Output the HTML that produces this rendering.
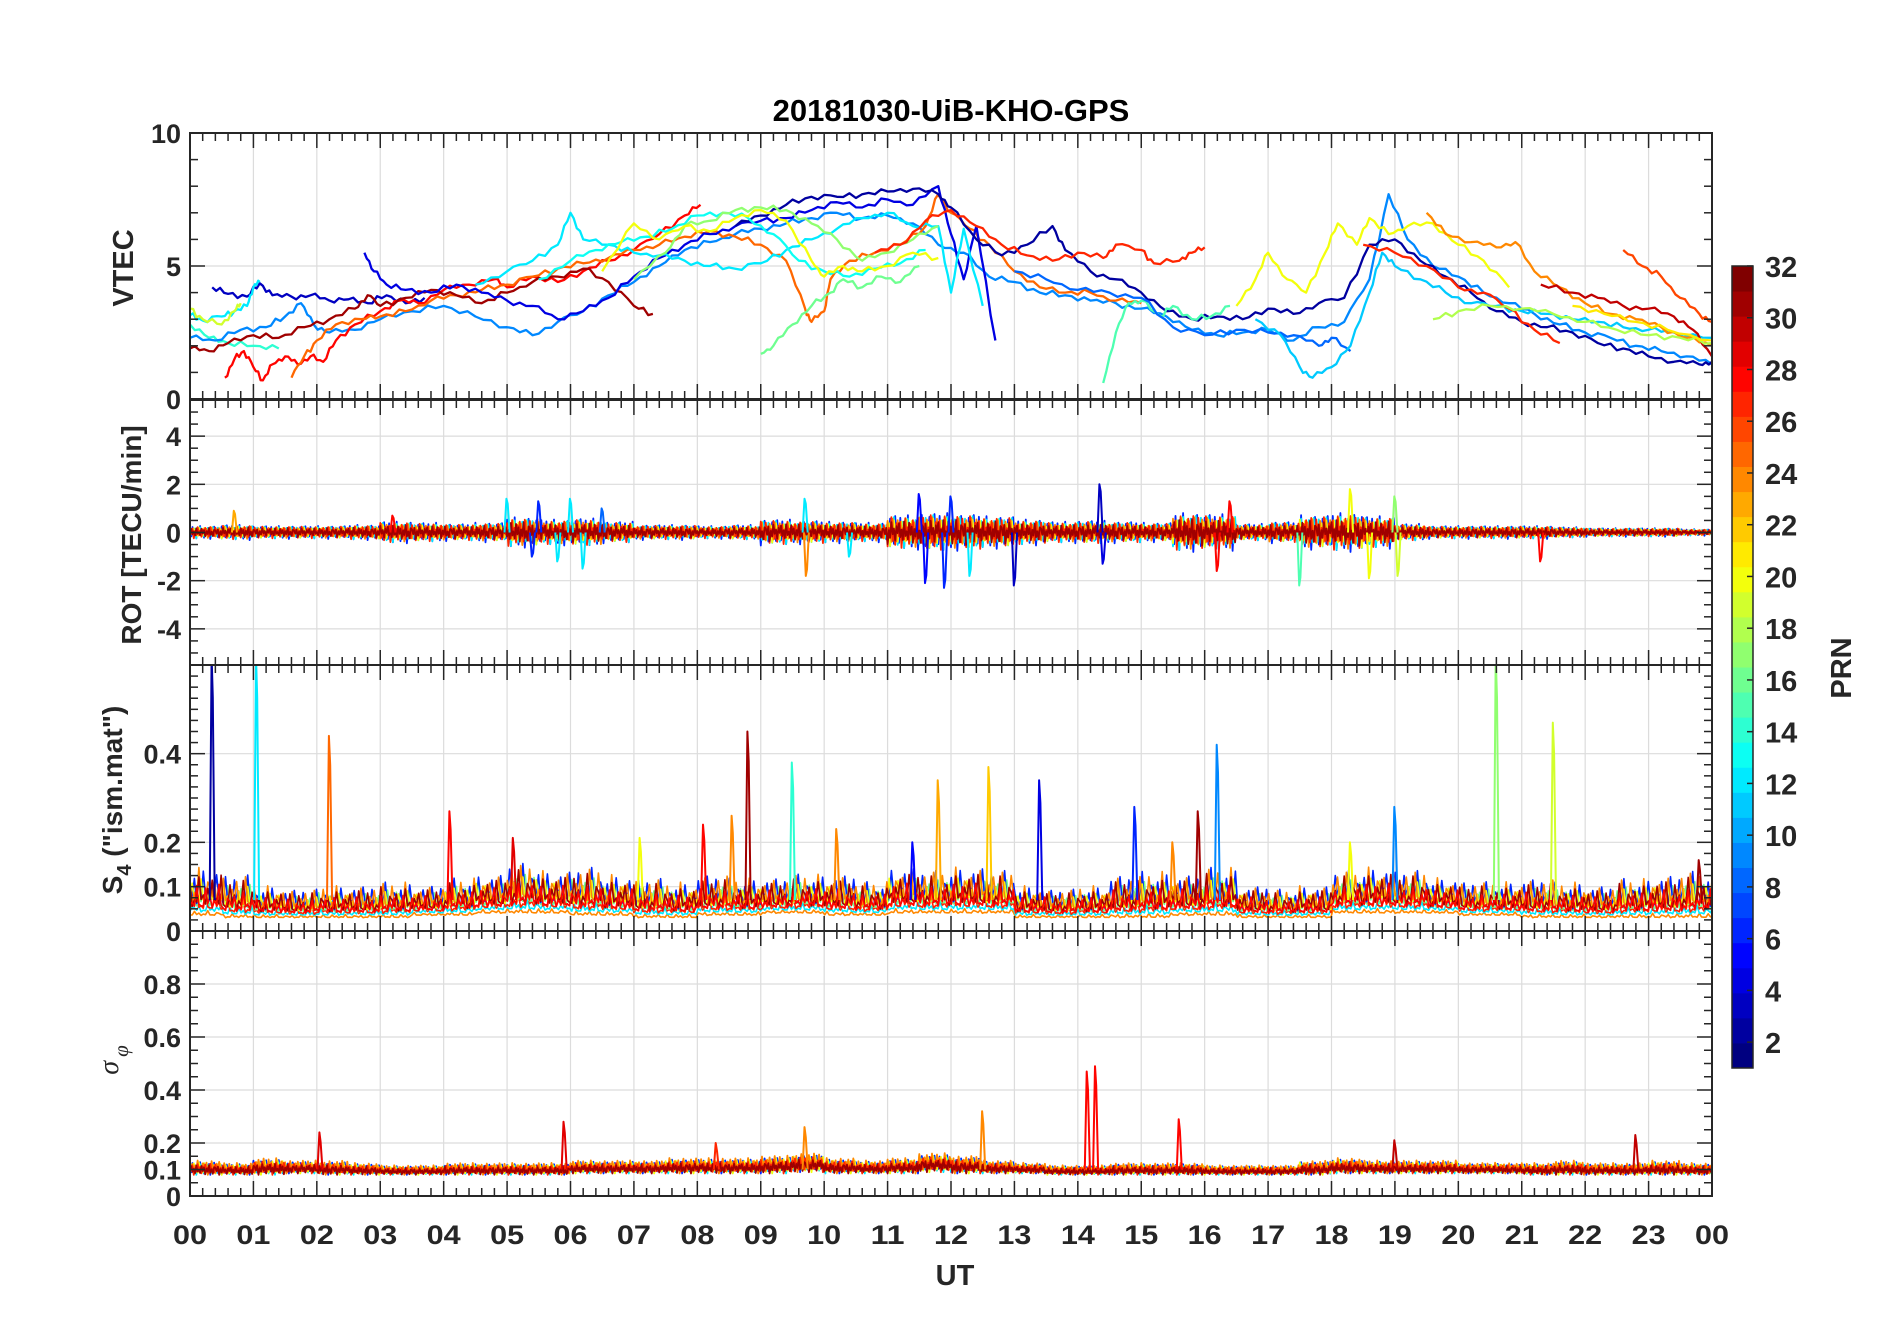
<!DOCTYPE html>
<html><head><meta charset="utf-8"><title>20181030-UiB-KHO-GPS</title>
<style>
html,body{margin:0;padding:0;background:#fff;}
svg{display:block;font-family:"Liberation Sans",Arial,sans-serif;}
</style></head>
<body>
<svg id="fig" width="1902" height="1330" viewBox="0 0 1902 1330" xmlns="http://www.w3.org/2000/svg">
<rect x="0" y="0" width="1902" height="1330" fill="#fff"/>
<text x="951" y="121" font-size="31" font-weight="bold" text-anchor="middle" fill="#000">20181030-UiB-KHO-GPS</text>
<g id="grids"></g>
<g id="data"></g>
<g id="axes"></g>
<g id="cbar"></g>
<text transform="translate(133,268) rotate(-90)" font-size="29" font-weight="bold" text-anchor="middle" fill="#262626">VTEC</text>
<text transform="translate(141,535) rotate(-90)" font-size="28" font-weight="bold" text-anchor="middle" fill="#262626">ROT [TECU/min]</text>
<text transform="translate(122,800) rotate(-90)" font-size="28" font-weight="bold" text-anchor="middle" fill="#262626">S<tspan font-size="20" dy="9">4</tspan><tspan dy="-9"> ("ism.mat")</tspan></text>
<text transform="translate(118,1060) rotate(-90)" font-size="28" font-style="italic" text-anchor="middle" fill="#262626" font-family="Liberation Serif, serif">σ<tspan font-size="21" dy="10" dx="4">φ</tspan></text>
<text x="955" y="1285" font-size="29" font-weight="bold" text-anchor="middle" fill="#262626">UT</text>
<text transform="translate(1851,668) rotate(-90)" font-size="29" font-weight="bold" text-anchor="middle" fill="#262626">PRN</text>
</svg>
<script>
// ---------- DATA ----------
const hourLabels=["00","01","02","03","04","05","06","07","08","09","10","11","12","13","14","15","16","17","18","19","20","21","22","23","00"];
const prnTicks=[2,4,6,8,10,12,14,16,18,20,22,24,26,28,30,32];
const vtecTicks=[0,5,10];
const rotTicks=[-4,-2,0,2,4];
const s4Ticks=[0,0.1,0.2,0.4];
const sigTicks=[0,0.1,0.2,0.4,0.6,0.8];

// VTEC tracks: PRN, times (h), values (TECU)
const vtecPrn=[3,12,19,14,9,28,25,31,4,2,12,13,17,16,20,27,15,8,20,11,24,26,27,30,18,21];
const vtecTimes=[
[0.35,0.6,0.9,1.1,1.3,1.6,1.9,2.2,2.5,2.8,3.1,3.4,3.7],
[0,0.2,0.5,0.7,0.9,1.0,1.1],
[0,0.2,0.5,0.7,0.8],
[0,0.3,0.6,1.0,1.4],
[0,0.4,0.8,1.2,1.5,1.75,1.95,2.2,2.6,3.0,3.5,4.0,4.5,5.0,5.4,5.8,6.2,6.6,7.0,7.4,7.8,8.2,8.6,9.0,9.4,9.8,10.2,10.6,11.0,11.4,11.8,12.2,12.6,13.0,13.4,13.8,14.2,14.6,15.0,15.4,15.8,16.2,16.6,17.0,17.4,17.8,18.2,18.6,18.9,19.2,19.6,20.0,20.4,20.8,21.2,21.6,22.0,22.4,22.8,23.2,23.6,24],
[0.55,0.7,0.85,1.0,1.15,1.3,1.5,1.7,1.9,2.1,2.3,2.6,3.0,3.3,3.6,4.0,4.4,4.8,5.0,5.4,5.8,6.2,6.6,7.0,7.4,7.8,8.05],
[1.6,1.8,2.0,2.3,2.7,3.0,3.4,3.8,4.2,4.6,5.0,5.4,5.8,6.2,6.6,7.0,7.4,7.8,8.2,8.6,9.0,9.4,9.7,9.8,10.0,10.1,10.4,10.8,11.2,11.6,11.8,12.0,12.3,12.6,13.0,13.4,13.8,14.2,14.6,15.0],
[0,0.3,0.6,1.0,1.4,1.8,2.2,2.6,2.8,3.0,3.4,3.8,4.2,4.6,5.0,5.4,5.8,6.2,6.6,7.0,7.3],
[2.75,2.9,3.1,3.4,3.8,4.2,4.6,5.0,5.4,5.8,6.2,6.6,7.0,7.4,7.8,8.2,8.6,9.0,9.4,9.8,10.2,10.6,11.0,11.4,11.8,12.0,12.2,12.4,12.7],
[8.6,9.0,9.4,9.8,10.2,10.6,11.0,11.4,11.8,12.0,12.4,12.8,13.2,13.6,13.8,14.2,14.6,15.0,15.4,15.8,16.2,16.6,17.0,17.4,17.8,18.2,18.6,19.0,19.4,19.8,20.2,20.6,21.0,21.4,21.8,22.2,22.6,23.0,23.4,23.8,24],
[4.5,5.0,5.4,5.8,6.0,6.2,6.6,7.0,7.4,7.8,8.2,8.6,9.0,9.4,9.8,10.2,10.6,11.0,11.4,11.8,12.0,12.2,12.5],
[5.5,6.0,6.4,6.8,7.2,7.6,8.0,8.4,8.8,9.2,9.6,10.0,10.4,10.8,11.2,11.6],
[7.0,7.5,7.8,8.2,8.6,9.0,9.4,9.8,10.2,10.6,11.0,11.4,11.8],
[9.0,9.2,9.5,9.8,10.1,10.3,10.6,10.9,11.2,11.5],
[6.5,7.0,7.4,7.8,8.2,8.6,9.0,9.4,9.8,10.0,10.3,10.6,11.0,11.4,11.8],
[10.8,11.2,11.6,12.0,12.4,12.8,13.2,13.6,14.0,14.4,14.6,15.0,15.2,15.6,15.8,16.0],
[14.4,14.6,14.8,15.0,15.3,15.5,15.8,16.1,16.4],
[13.0,13.5,14.0,14.5,15.0,15.5,16.0,16.5,17.0,17.4,17.8,18.0,18.3],
[16.5,16.8,17.0,17.3,17.6,17.9,18.1,18.4,18.6,18.9,19.2,19.6,20.0,20.4,20.8],
[16.8,17.2,17.5,17.7,18.0,18.3,18.6,18.8,19.0,19.4,19.8,20.2,20.6,21.0,21.4,21.8,22.2,22.6,23.0,23.4,24],
[19.5,19.8,20.2,20.6,20.9,21.2,21.6,22.0,22.4,22.8,23.2,23.6,24],
[22.6,22.9,23.2,23.5,23.8,24],
[18.5,19.0,19.5,20.0,20.4,20.8,21.2,21.6],
[21.3,21.8,22.2,22.6,23.0,23.4,23.7,24],
[19.6,20.0,20.5,21.0,21.5,22.0,22.5,23.0,23.5,24],
[21.8,22.3,22.8,23.3,24]
];
const vtecValues=[
[4.2,3.95,3.85,4.35,3.9,3.85,3.9,3.7,3.75,3.6,3.9,3.6,3.8],
[3.15,2.95,3.1,3.3,3.5,4.2,4.4],
[3.4,3.0,2.8,3.3,3.6],
[2.8,2.3,2.1,2.0,1.9],
[2.3,2.2,2.6,2.7,3.1,3.6,2.8,2.5,2.6,3.0,3.3,3.5,3.1,2.7,2.4,2.9,3.3,3.9,4.4,5.0,5.6,5.9,6.2,6.4,6.6,6.8,7.0,6.8,6.9,6.6,5.8,5.5,4.6,4.4,4.0,3.9,3.7,3.6,3.4,3.1,2.6,2.4,2.5,2.6,2.2,2.7,2.9,4.5,7.7,6.0,5.0,4.6,4.0,3.6,3.2,2.8,2.5,2.3,2.0,1.8,1.6,1.3],
[0.8,1.5,1.8,1.2,0.7,1.3,1.6,1.3,1.6,1.4,2.2,2.8,3.3,3.7,3.6,4.1,4.3,4.5,4.2,4.6,4.4,4.8,5.2,5.6,6.2,6.9,7.3],
[0.8,1.6,2.2,2.8,3.0,3.1,3.3,3.7,3.9,4.1,4.3,4.6,4.9,5.1,5.3,5.6,5.8,6.1,6.3,6.1,5.8,5.2,3.4,2.9,3.3,4.5,5.2,5.5,5.8,6.5,7.7,7.0,6.4,5.8,4.8,4.2,4.0,4.0,3.7,3.6],
[1.9,1.8,2.1,2.4,2.3,2.7,3.0,3.4,3.9,3.5,3.8,4.1,3.9,3.6,4.0,4.4,4.6,4.9,4.4,3.5,3.2],
[5.5,4.8,4.3,4.1,4.0,4.3,4.0,3.7,3.5,3.0,3.3,3.8,4.6,5.3,5.8,6.2,6.5,6.7,6.8,7.1,7.4,7.2,7.5,7.3,8.0,6.2,4.5,6.5,2.2],
[6.5,6.9,7.3,7.6,7.6,7.7,7.8,7.9,7.7,7.2,6.0,5.4,5.8,6.5,5.6,4.8,4.5,4.0,3.3,3.0,3.1,3.0,3.4,3.2,3.6,3.8,5.8,6.0,5.2,4.6,4.0,3.3,2.9,2.7,2.5,2.1,1.9,1.6,1.4,1.3,1.4],
[4.3,4.8,5.2,5.8,7.0,6.0,5.8,5.5,5.4,5.2,5.0,4.9,5.1,5.6,6.0,6.4,6.8,7.0,6.5,6.5,4.0,6.4,3.5],
[4.5,5.2,5.6,5.9,6.1,6.4,6.9,7.0,6.8,6.2,5.2,4.8,4.6,4.9,5.1,5.6],
[4.5,5.5,6.5,6.7,7.1,7.2,7.1,6.6,6.0,5.2,5.5,6.0,6.5],
[1.7,2.0,2.8,3.5,4.0,4.5,4.2,4.6,4.4,5.0],
[4.8,6.6,6.0,6.5,6.3,6.8,7.1,6.7,5.2,4.6,5.0,4.8,5.0,5.5,5.3],
[5.5,5.8,6.7,7.1,6.5,5.8,5.4,5.2,5.5,5.3,5.8,5.6,5.1,5.2,5.5,5.7],
[0.6,2.5,3.6,3.7,3.1,3.5,3.0,3.1,3.5],
[4.8,4.5,4.1,4.0,3.8,2.7,2.4,2.6,2.5,2.4,2.0,2.3,1.8],
[3.5,4.5,5.5,4.5,4.0,5.5,6.6,5.8,6.8,6.2,6.5,6.6,5.8,5.2,4.2],
[3.0,2.4,1.2,0.8,1.2,2.0,4.0,5.5,5.0,4.5,4.0,3.6,3.5,3.3,3.2,3.0,2.9,2.7,2.6,2.5,2.3],
[7.0,6.2,5.9,5.7,5.9,4.8,4.2,3.6,3.2,3.0,2.7,2.3,2.0],
[5.6,5.0,4.6,3.8,3.2,2.9],
[5.8,5.5,5.0,4.2,4.0,3.4,2.6,2.1],
[4.3,4.0,3.8,3.5,3.4,3.1,2.6,1.6],
[3.0,3.3,3.5,3.4,3.2,2.9,2.6,2.4,2.3,2.1],
[3.5,3.2,2.9,2.6,2.2]
];

// ROT: half-hour envelope amplitude (TECU/min), 48 bins
const rotAmp=[0.3,0.35,0.3,0.3,0.3,0.35, 0.5,0.45,0.4,0.45, 0.7,0.6,0.65,0.5, 0.35,0.35,0.3,0.35, 0.6,0.55,0.5,0.45, 0.8,0.9,0.85,0.75, 0.6,0.5,0.55,0.5, 0.45,0.9,0.85,0.4, 0.5,0.8,0.9,0.75, 0.4,0.3,0.3,0.3, 0.3,0.25,0.2,0.2,0.2,0.15];
const rotSpikeT=[0.7,3.2,5.0,5.5,6.0,6.5,9.7,11.5,12.0,14.35,16.4,18.3,19.0,5.4,5.8,6.2,9.72,10.4,11.6,11.9,12.3,13.0,14.4,16.2,17.5,18.6,19.05,21.3];
const rotSpikeV=[0.9,0.7,1.4,1.3,1.4,1.0,1.4,1.6,1.5,2.0,1.3,1.8,1.5,-1.0,-1.2,-1.5,-1.8,-1.0,-2.1,-2.3,-1.8,-2.2,-1.3,-1.6,-2.2,-1.9,-1.8,-1.2];
const rotSpikePrn=[23,28,12,6,12,8,12,5,6,3,28,20,17,6,12,12,24,12,5,6,12,3,4,28,15,20,19,28];

// S4: half-hour band low/high
const s4Lo=[0.035,0.03,0.03,0.03,0.03,0.03, 0.03,0.035,0.035,0.04, 0.04,0.04,0.035,0.035, 0.03,0.03,0.035,0.035, 0.04,0.04,0.035,0.035, 0.04,0.04,0.04,0.04, 0.03,0.03,0.03,0.03, 0.03,0.035,0.035,0.03, 0.03,0.03,0.04,0.04, 0.04,0.04,0.035,0.035, 0.03,0.03,0.03,0.03,0.03,0.03];
const s4Hi=[0.17,0.15,0.12,0.11,0.12,0.12, 0.13,0.12,0.14,0.15, 0.18,0.16,0.17,0.15, 0.14,0.13,0.15,0.14, 0.14,0.15,0.15,0.13, 0.17,0.16,0.17,0.16, 0.12,0.11,0.12,0.15, 0.16,0.15,0.17,0.12, 0.11,0.12,0.16,0.17, 0.16,0.14,0.13,0.13, 0.14,0.13,0.12,0.14,0.15,0.16];
const s4SpikeT=[0.35,1.05,2.2,4.1,5.1,7.1,8.1,8.55,8.8,9.5,10.2,11.4,11.8,12.6,13.4,14.9,15.5,15.9,16.2,18.3,19.0,20.6,21.5,23.8];
const s4SpikeV=[0.62,0.62,0.44,0.27,0.21,0.21,0.24,0.26,0.45,0.38,0.23,0.2,0.34,0.37,0.34,0.28,0.2,0.27,0.42,0.2,0.28,0.62,0.47,0.16];
const s4SpikePrn=[2,12,25,28,29,20,28,24,31,14,24,5,23,22,4,6,24,31,9,20,9,17,19,31];

// sigma phi: half-hour band low/high
const sigLo=[0.08,0.08,0.08,0.085,0.08,0.08, 0.08,0.08,0.08,0.08, 0.08,0.08,0.085,0.085, 0.085,0.085,0.085,0.085, 0.085,0.09,0.085,0.085, 0.085,0.09,0.085,0.085, 0.085,0.08,0.08,0.08, 0.08,0.08,0.08,0.08, 0.08,0.08,0.085,0.085, 0.085,0.085,0.085,0.085, 0.08,0.08,0.08,0.08,0.08,0.08];
const sigHi=[0.14,0.13,0.15,0.14,0.14,0.13, 0.12,0.12,0.13,0.13, 0.13,0.13,0.14,0.14, 0.14,0.15,0.15,0.15, 0.16,0.17,0.15,0.14, 0.15,0.17,0.16,0.14, 0.13,0.12,0.12,0.13, 0.13,0.13,0.12,0.12, 0.12,0.14,0.15,0.14, 0.14,0.14,0.13,0.13, 0.13,0.14,0.13,0.13,0.14,0.13];
const sigSpikeT=[2.05,5.9,8.3,9.7,12.5,14.15,14.28,15.6,19.0,22.8];
const sigSpikeV=[0.24,0.28,0.2,0.26,0.32,0.47,0.49,0.29,0.21,0.23];
const sigSpikePrn=[29,29,27,24,24,28,28,28,30,30];

// ---------- RENDER ----------
const NS="http://www.w3.org/2000/svg";
const L=190,R=1712;
function X(h){return L+h*(R-L)/24;}
const panels=[
 {name:"vtec",t:133,b:399,min:0,max:10,ticks:vtecTicks,minor:1,labels:["0","5","10"]},
 {name:"rot",t:400,b:665,min:-5.5,max:5.5,ticks:rotTicks,minor:0.5,labels:["-4","-2","0","2","4"]},
 {name:"s4",t:665,b:931,min:0,max:0.6,ticks:s4Ticks,minor:0.025,labels:["0","0.1","0.2","0.4"]},
 {name:"sigma",t:931,b:1196,min:0,max:1,ticks:sigTicks,minor:0.05,labels:["0","0.1","0.2","0.4","0.6","0.8"]}
];
function Y(p,v){return p.b-(v-p.min)/(p.max-p.min)*(p.b-p.t);}
function jet(prn){
 const t=(prn-1)/31;
 const c=x=>Math.round(255*Math.max(0,Math.min(1,x)));
 return `rgb(${c(1.5-Math.abs(4*t-3))},${c(1.5-Math.abs(4*t-2))},${c(1.5-Math.abs(4*t-1))})`;
}
function mk(tag,attrs,parent){const e=document.createElementNS(NS,tag);for(const k in attrs)e.setAttribute(k,attrs[k]);if(parent)parent.appendChild(e);return e;}
const gGrid=document.getElementById('grids'),gData=document.getElementById('data'),gAx=document.getElementById('axes');
const svg=document.getElementById('fig');
const defs=mk('defs',{},svg);

panels.forEach((p,i)=>{
 const cp=mk('clipPath',{id:'clip'+i},defs);
 mk('rect',{x:L,y:p.t,width:R-L,height:p.b-p.t},cp);
 const gg=mk('g',{},gGrid);
 
 
 for(let h=1;h<24;h++) mk('line',{x1:X(h),x2:X(h),y1:p.t,y2:p.b,stroke:'#dcdcdc','stroke-width':1.2},gg);
 p.ticks.forEach(v=>{ if(v>p.min&&v<p.max) mk('line',{x1:L,x2:R,y1:Y(p,v),y2:Y(p,v),stroke:'#dcdcdc','stroke-width':1.2},gg);});
});

// texture for noisy bands (rendering style only)
const tex=[0.1,-0.6,0.85,-0.2,0.5,-0.9,0.3,-0.35,1.0,-0.55,0.15,-0.8,0.6,0.45,-0.25,0.7,-1.0,0.2,-0.45,0.9,-0.15,0.35,-0.7,0.55,-0.05,0.8,-0.4,0.25,-0.65,0.95,-0.3];
function binVal(arr,h){return arr[Math.min(arr.length-1,Math.max(0,Math.floor(h*2)))];}
function polyline(parent,pts,color,w,name){
 const e=mk('polyline',{points:pts.map(q=>q[0].toFixed(1)+','+q[1].toFixed(1)).join(' '),fill:'none',stroke:color,'stroke-width':w,'stroke-linejoin':'round'},parent);
 
 
 return e;
}

// VTEC
{
 const p=panels[0];
 const g=mk('g',{'clip-path':'url(#clip0)'},gData);
 
 
 vtecPrn.forEach((prn,k)=>{
  const ts=vtecTimes[k],vs=vtecValues[k],pts=[];
  for(let i=0;i<ts.length;i++){
   pts.push([X(ts[i]),Y(p,vs[i])]);
   if(i<ts.length-1){
    const n=4;
    for(let j=1;j<n;j++){const h=ts[i]+(ts[i+1]-ts[i])*j/n;const v=vs[i]+(vs[i+1]-vs[i])*j/n+0.12*tex[(i*3+j+k*7)%tex.length];pts.push([X(h),Y(p,v)]);}
   }
  }
  polyline(g,pts,jet(prn),2.3,'vtec-prn-'+prn);
 });
}

function band(pi,layers,valueAt,step,w){
 const p=panels[pi];
 const g=mk('g',{'clip-path':'url(#clip'+pi+')'},gData);
 
 
 const n=Math.round(24/step);
 layers.forEach((ly,k)=>{
  const pts=[];
  for(let i=0;i<=n;i++){
   const h=i*step;
   const tv=tex[(i+k*11)%tex.length];
   pts.push([X(h),Y(p,valueAt(h,tv,ly))]);
  }
  polyline(g,pts,jet(ly.prn),w,p.name+'-prn-'+ly.prn);
 });
 return g;
}
function spikes(g,pi,T,V,P,base){
 const p=panels[pi];
 T.forEach((t,i)=>{
  const pts=[[X(t-0.04),Y(p,base)],[X(t-0.01),Y(p,V[i])],[X(t+0.01),Y(p,V[i]*0.85)],[X(t+0.04),Y(p,base)]];
  polyline(g,pts,jet(P[i]),2,p.name+'-spike-prn-'+P[i]);
 });
}
// ROT
{
 const layers=[{prn:6,s:0.9},{prn:12,s:0.8},{prn:20,s:0.7},{prn:24,s:0.75},{prn:27,s:0.8},{prn:31,s:0.6}];
 const g=band(1,layers,(h,tv,ly)=>binVal(rotAmp,h)*tv*ly.s,0.02,1.8);
 spikes(g,1,rotSpikeT,rotSpikeV,rotSpikePrn,0);
}
// S4
{
 const layers=[{prn:24,b:0,a:0.08},{prn:12,b:0.06,a:0.15},{prn:27,b:0.1,a:0.25},{prn:16,b:0.15,a:0.5},{prn:6,b:0.2,a:0.6},{prn:20,b:0.18,a:0.45},{prn:24,b:0.2,a:0.6},{prn:31,b:0.15,a:0.55},{prn:28,b:0.12,a:0.4}];
 const g=band(2,layers,(h,tv,ly)=>{const lo=binVal(s4Lo,h),hi=binVal(s4Hi,h);return lo+(hi-lo)*(ly.b+ly.a*(tv>0?tv:0.25*(1+tv)));},0.035,1.6);
 spikes(g,2,s4SpikeT,s4SpikeV,s4SpikePrn,0.07);
}
// sigma
{
 const layers=[{prn:6,s:0.8},{prn:12,s:0.7},{prn:20,s:0.8},{prn:24,s:0.9},{prn:27,s:0.7},{prn:31,s:0.6}];
 const g=band(3,layers,(h,tv,ly)=>{const lo=binVal(sigLo,h),hi=binVal(sigHi,h);return lo+(hi-lo)*(0.5+0.5*tv)*ly.s;},0.02,1.8);
 spikes(g,3,sigSpikeT,sigSpikeV,sigSpikePrn,0.1);
}

// axes
panels.forEach((p,i)=>{
 const g=mk('g',{},gAx);
 
 
 mk('rect',{x:L,y:p.t,width:R-L,height:p.b-p.t,fill:'none',stroke:'#262626','stroke-width':2},g);
 for(let m=0;m<=120;m++){
  const h=m*0.2,x=X(h),maj=(m%5===0),len=maj?15:8;
  mk('line',{x1:x,x2:x,y1:p.b,y2:p.b-len,stroke:'#262626','stroke-width':1.5},g);
  mk('line',{x1:x,x2:x,y1:p.t,y2:p.t+len,stroke:'#262626','stroke-width':1.5},g);
 }
 const nMin=Math.round((p.max-p.min)/p.minor);
 for(let m=0;m<=nMin;m++){
  const v=p.min+m*p.minor,y=Y(p,v);
  const maj=p.ticks.some(t=>Math.abs(t-v)<1e-6);
  const len=maj?15:8;
  mk('line',{x1:L,x2:L+len,y1:y,y2:y,stroke:'#262626','stroke-width':1.5},g);
  mk('line',{x1:R,x2:R-len,y1:y,y2:y,stroke:'#262626','stroke-width':1.5},g);
 }
 p.ticks.forEach((v,k)=>{
  const t=mk('text',{x:L-9,y:Y(p,v)+10,'font-size':27,'font-weight':'bold','text-anchor':'end',fill:'#262626'},g);
  
  
  t.textContent=p.labels[k];
 });
});
hourLabels.forEach((lab,i)=>{
 const t=mk('text',{x:X(i),y:1244,'font-size':27,'font-weight':'bold','text-anchor':'middle',fill:'#262626',textLength:34,lengthAdjust:'spacingAndGlyphs'},gAx);
 
 
 t.textContent=lab;
});

// colorbar
{
 const g=document.getElementById('cbar');
 const cT=266,cB=1068,cL=1732,cW=21,bh=(cB-cT)/32;
 for(let p=1;p<=32;p++){
  const r=mk('rect',{x:cL,y:cB-p*bh,width:cW,height:bh+0.5,fill:jet(p)},g);
  
  
 }
 mk('rect',{x:cL,y:cT,width:cW,height:cB-cT,fill:'none',stroke:'#262626','stroke-width':1.5},g);
 prnTicks.forEach(v=>{
  const y=cB-(v-1)*(cB-cT)/31;
  mk('line',{x1:cL+cW-6,x2:cL+cW,y1:y,y2:y,stroke:'#262626','stroke-width':1.5},g);
  const t=mk('text',{x:1765,y:y+11,'font-size':29,'font-weight':'bold',fill:'#262626'},g);
  
  
  t.textContent=v;
 });
}
</script>
</body></html>
